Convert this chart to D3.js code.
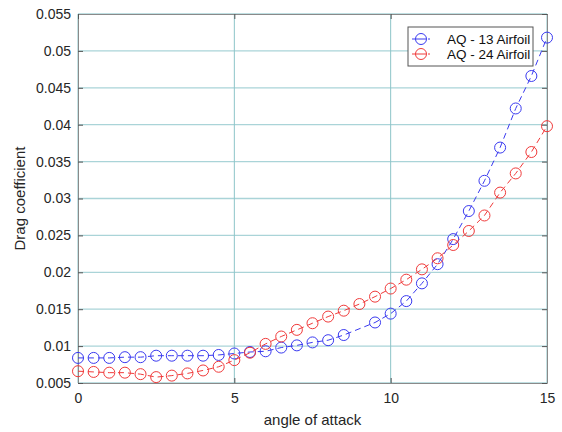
<!DOCTYPE html>
<meta charset="utf-8">
<head>
    <script src="https://d3js.org/d3.v7.min.js"></script>
    <style>
        body { margin: 0; background: #fff; font-family: "Liberation Sans", Arial, Helvetica, sans-serif; }
        .tick text { fill: #262626; font-size: 14px; }
    </style>
</head>
<body>
    <svg></svg>
    <script>
    // Data
    var angles13 = [0, 0.5, 1, 1.5, 2, 2.5, 3, 3.5, 4, 4.5, 5, 5.5, 6, 6.5, 7, 7.5, 8, 8.5,
                    9.5, 10, 10.5, 11, 11.5, 12, 12.5, 13, 13.5, 14, 14.5, 15];
    var cd13 = [0.0084, 0.0084, 0.0084, 0.0085, 0.0085, 0.0087, 0.0087, 0.0087, 0.0087, 0.0088,
                0.0090, 0.0092, 0.0093, 0.0098, 0.0101, 0.0105, 0.0108, 0.0115,
                0.0132, 0.0144, 0.0161, 0.0185, 0.0211, 0.0245, 0.0283, 0.0324, 0.0369, 0.0422, 0.0466, 0.0518];
    var angles24 = [0, 0.5, 1, 1.5, 2, 2.5, 3, 3.5, 4, 4.5, 5, 5.5, 6, 6.5, 7, 7.5, 8, 8.5,
                    9, 9.5, 10, 10.5, 11, 11.5, 12, 12.5, 13, 13.5, 14, 14.5, 15];
    var cd24 = [0.0066, 0.0065, 0.0064, 0.0064, 0.0062, 0.0058, 0.0060, 0.0063, 0.0067, 0.0072,
                0.0081, 0.0091, 0.0103, 0.0113, 0.0122, 0.0131, 0.0140, 0.0148,
                0.0157, 0.0167, 0.0178, 0.0190, 0.0204, 0.0219, 0.0237, 0.0256, 0.0277, 0.0308, 0.0334, 0.0363, 0.0398];
    var xTicks = [0, 5, 10, 15];
    var yTicks = [0.005, 0.01, 0.015, 0.02, 0.025, 0.03, 0.035, 0.04, 0.045, 0.05, 0.055];
    var seriesNames = ["AQ - 13 Airfoil", "AQ - 24 Airfoil"];
    var seriesColors = ["#3a3af0", "#f03a3a"];

    var width = 562, height = 432;
    var margin = {top: 14, right: 15, bottom: 49, left: 78};
    var w = width - margin.left - margin.right;
    var h = height - margin.top - margin.bottom;

    var svg = d3.select('svg').attr('width', width).attr('height', height);
    var g = svg.append('g').attr('transform', 'translate(' + margin.left + ',' + margin.top + ')');

    var x = d3.scaleLinear().domain([0, 15]).range([0, w]);
    var y = d3.scaleLinear().domain([0.005, 0.055]).range([h, 0]);

    // grid
    g.selectAll('.hgrid').data(yTicks).enter().append('line')
        .attr('x1', 0).attr('x2', w)
        .attr('y1', function (d) { return y(d); }).attr('y2', function (d) { return y(d); })
        .style('stroke', '#aad4d8').style('stroke-width', 1.3);
    g.selectAll('.vgrid').data(xTicks).enter().append('line')
        .attr('x1', function (d) { return x(d); }).attr('x2', function (d) { return x(d); })
        .attr('y1', 0).attr('y2', h)
        .style('stroke', '#8cc4c8').style('stroke-width', 1);

    // axes (ticks inward, MATLAB style)
    var xAxis = g.append('g').attr('transform', 'translate(0,' + h + ')')
        .call(d3.axisBottom(x).tickValues(xTicks).tickSizeInner(-5).tickSizeOuter(0).tickPadding(10));
    var yAxis = g.append('g')
        .call(d3.axisLeft(y).tickValues(yTicks).tickFormat(function (d) { return +d.toFixed(3); })
            .tickSizeInner(-5).tickSizeOuter(0).tickPadding(7));
    g.append('g').attr('transform', 'translate(0,0)')
        .call(d3.axisTop(x).tickValues(xTicks).tickSizeInner(-5).tickSizeOuter(0).tickFormat(''));
    g.append('g').attr('transform', 'translate(' + w + ',0)')
        .call(d3.axisRight(y).tickValues(yTicks).tickSizeInner(-5).tickSizeOuter(0).tickFormat(''));
    g.selectAll('.domain').style('stroke', '#8a8a8a');
    g.selectAll('.tick line').style('stroke', '#555');
    g.selectAll('.tick text').style('font-size', '14px');

    // axis labels
    svg.append('text').attr('x', margin.left + w / 2).attr('y', height - 7)
        .attr('text-anchor', 'middle').style('font-size', '15px').style('fill', '#262626')
        .text('angle of attack');
    svg.append('text').attr('transform', 'translate(25,' + (margin.top + h / 2) + ')rotate(-90)')
        .attr('text-anchor', 'middle').style('font-size', '15px').style('fill', '#262626')
        .text('Drag coefficient');

    // series
    var series = [
        {xs: angles13, ys: cd13},
        {xs: angles24, ys: cd24}
    ];
    var line = d3.line().x(function (d) { return x(d[0]); }).y(function (d) { return y(d[1]); });

    series.forEach(function (s, i) {
        var pts = d3.zip(s.xs, s.ys);
        g.append('path').datum(pts)
            .attr('d', line)
            .style('fill', 'none')
            .style('stroke', seriesColors[i])
            .style('stroke-width', 1)
            .style('stroke-dasharray', '6,4');
        g.selectAll('.m' + i).data(pts).enter().append('circle')
            .attr('cx', function (d) { return x(d[0]); })
            .attr('cy', function (d) { return y(d[1]); })
            .attr('r', 5.5)
            .style('fill', 'none')
            .style('stroke', seriesColors[i])
            .style('stroke-width', 1);
    });

    // legend
    var lg = svg.append('g').attr('transform', 'translate(408,27)');
    lg.append('rect').attr('width', 125).attr('height', 39)
        .style('fill', '#fff').style('stroke', '#555').style('stroke-width', 1);
    seriesNames.forEach(function (name, i) {
        var yy = 12 + i * 15;
        lg.append('line').attr('x1', 4).attr('x2', 22).attr('y1', yy).attr('y2', yy)
            .style('stroke', seriesColors[i]).style('stroke-dasharray', '5,3');
        lg.append('circle').attr('cx', 13).attr('cy', yy).attr('r', 5.5)
            .style('fill', '#fff').style('stroke', seriesColors[i]);
        lg.append('line').attr('x1', 8).attr('x2', 18).attr('y1', yy).attr('y2', yy)
            .style('stroke', seriesColors[i]);
        lg.append('text').attr('x', 39).attr('y', yy + 5)
            .style('font-size', '13.5px').style('fill', '#111').text(name);
    });
    </script>
</body>
</html>
